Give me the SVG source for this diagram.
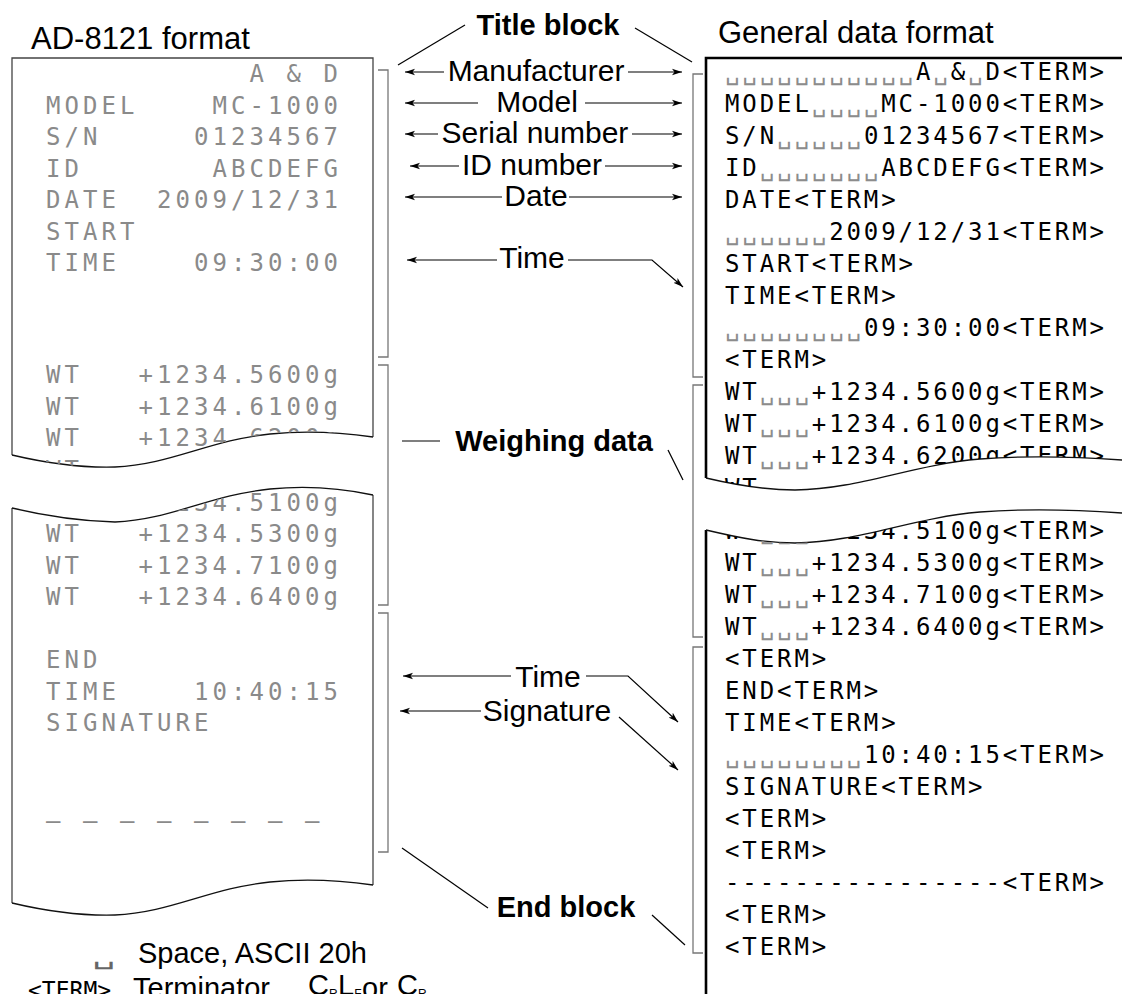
<svg xmlns="http://www.w3.org/2000/svg" width="1122" height="994" viewBox="0 0 1122 994">
<style>
text{white-space:pre}
.lp{font-family:"DejaVu Sans Mono",monospace;font-size:24px;letter-spacing:4.05px;fill:#8a8a8a}
.rp{font-family:"DejaVu Sans Mono",monospace;font-size:24px;letter-spacing:2.91px;fill:#000}
.sp{fill:#8c8c8c}
.hdr{font-family:"Liberation Sans",Arial,sans-serif;font-size:31px;fill:#000}
.lbl{font-family:"Liberation Sans",Arial,sans-serif;font-size:30px;fill:#000;text-anchor:middle}
.blbl{font-family:"Liberation Sans",Arial,sans-serif;font-size:29px;font-weight:bold;fill:#000;text-anchor:middle}
.leg{font-family:"Liberation Sans",Arial,sans-serif;font-size:29px;fill:#000}
.edgeL{fill:none;stroke:#444;stroke-width:1.3}
.edgeR{fill:none;stroke:#000;stroke-width:2.6}
.wave{fill:none;stroke:#111;stroke-width:1.3}
.br{fill:none;stroke:#777;stroke-width:1.3}
.ln{fill:none;stroke:#000;stroke-width:1.2}
</style>
<defs>
<marker id="ah" viewBox="0 0 10 8" refX="10" refY="4" markerWidth="10" markerHeight="8" markerUnits="userSpaceOnUse" orient="auto-start-reverse"><path d="M0,0.8 L10,4 L0,7.2 L2.5,4 Z" fill="#000"/></marker>
<clipPath id="cLU"><path d="M12,58 H373 V437 C345,433 310,430 270,434 C210,440 170,465 115,467 C80,468 50,464 12,455 Z"/></clipPath>
<clipPath id="cLL"><path d="M12,508 C50,517 80,521 115,522 C170,520 210,495 270,489 C310,485 345,489 373,495 V900 H12 Z"/></clipPath>
<clipPath id="cRU"><path d="M706,58 H1122 V460 C1080,457 1030,455 980,459 C910,465 860,489 795,490 C765,490 740,486 706,478 Z"/></clipPath>
<clipPath id="cRL"><path d="M706,530 C740,538 765,543 795,543 C860,542 910,518 980,512 C1030,508 1080,510 1122,513 V994 H706 Z"/></clipPath>
</defs>
<rect width="1122" height="994" fill="#fff"/>

<g id="headers">
<text class="hdr" x="31" y="49">AD-8121 format</text>
<text class="hdr" x="718" y="43">General data format</text>
</g>

<g id="left-paper">
<path class="edgeL" d="M12,455 V58 H373 V437"/>
<path class="wave" d="M12,455 C50,464 80,468 115,467 C170,465 210,440 270,434 C310,430 345,433 373,437"/>
<path class="edgeL" d="M12,508 V903"/>
<path class="edgeL" d="M373,495 V885"/>
<path class="wave" d="M12,508 C50,517 80,521 115,522 C170,520 210,495 270,489 C310,485 345,489 373,495"/>
<path class="wave" d="M12,903 C50,912 80,916 115,915 C170,913 210,888 270,882 C310,878 345,881 373,885"/>
<g clip-path="url(#cLU)">
<text class="lp" x="46" y="82" xml:space="preserve">           A &amp; D</text>
<text class="lp" x="46" y="113.5" xml:space="preserve">MODEL    MC-1000</text>
<text class="lp" x="46" y="145" xml:space="preserve">S/N     01234567</text>
<text class="lp" x="46" y="176.5" xml:space="preserve">ID       ABCDEFG</text>
<text class="lp" x="46" y="208" xml:space="preserve">DATE  2009/12/31</text>
<text class="lp" x="46" y="239.5">START</text>
<text class="lp" x="46" y="271" xml:space="preserve">TIME    09:30:00</text>
<text class="lp" x="46" y="383" xml:space="preserve">WT   +1234.5600g</text>
<text class="lp" x="46" y="414.5" xml:space="preserve">WT   +1234.6100g</text>
<text class="lp" x="46" y="446" xml:space="preserve">WT   +1234.6200g</text>
<text class="lp" x="46" y="477.5">WT</text>
</g>
<g clip-path="url(#cLL)">
<text class="lp" x="46" y="511" xml:space="preserve">WT   +1234.5100g</text>
<text class="lp" x="46" y="542" xml:space="preserve">WT   +1234.5300g</text>
<text class="lp" x="46" y="573.5" xml:space="preserve">WT   +1234.7100g</text>
<text class="lp" x="46" y="605" xml:space="preserve">WT   +1234.6400g</text>
<text class="lp" x="46" y="668">END</text>
<text class="lp" x="46" y="699.5" xml:space="preserve">TIME    10:40:15</text>
<text class="lp" x="46" y="731">SIGNATURE</text>
<text class="lp" x="46" y="829" xml:space="preserve">– – – – – – – –</text>
</g>
</g>

<g id="right-paper">
<path class="edgeR" d="M706,478 V58 H1122"/>
<path class="edgeR" d="M706,530 V994"/>
<path class="wave" d="M706,478 C740,486 765,490 795,490 C860,489 910,465 980,459 C1030,455 1080,457 1122,460"/>
<path class="wave" d="M706,530 C740,538 765,543 795,543 C860,542 910,518 980,512 C1030,508 1080,510 1122,513"/>
<g clip-path="url(#cRU)">
<text class="rp" x="725" y="80"><tspan class="sp">␣␣␣␣␣␣␣␣␣␣␣</tspan>A<tspan class="sp">␣</tspan>&amp;<tspan class="sp">␣</tspan>D&lt;TERM&gt;</text>
<text class="rp" x="725" y="112">MODEL<tspan class="sp">␣␣␣␣</tspan>MC-1000&lt;TERM&gt;</text>
<text class="rp" x="725" y="144">S/N<tspan class="sp">␣␣␣␣␣</tspan>01234567&lt;TERM&gt;</text>
<text class="rp" x="725" y="176">ID<tspan class="sp">␣␣␣␣␣␣␣</tspan>ABCDEFG&lt;TERM&gt;</text>
<text class="rp" x="725" y="208">DATE&lt;TERM&gt;</text>
<text class="rp" x="725" y="240"><tspan class="sp">␣␣␣␣␣␣</tspan>2009/12/31&lt;TERM&gt;</text>
<text class="rp" x="725" y="272">START&lt;TERM&gt;</text>
<text class="rp" x="725" y="304">TIME&lt;TERM&gt;</text>
<text class="rp" x="725" y="336"><tspan class="sp">␣␣␣␣␣␣␣␣</tspan>09:30:00&lt;TERM&gt;</text>
<text class="rp" x="725" y="368">&lt;TERM&gt;</text>
<text class="rp" x="725" y="400">WT<tspan class="sp">␣␣␣</tspan>+1234.5600g&lt;TERM&gt;</text>
<text class="rp" x="725" y="432">WT<tspan class="sp">␣␣␣</tspan>+1234.6100g&lt;TERM&gt;</text>
<text class="rp" x="725" y="464">WT<tspan class="sp">␣␣␣</tspan>+1234.6200g&lt;TERM&gt;</text>
<text class="rp" x="725" y="496">WT</text>
</g>
<g clip-path="url(#cRL)">
<text class="rp" x="725" y="539">WT<tspan class="sp">␣␣␣</tspan>+1234.5100g&lt;TERM&gt;</text>
<text class="rp" x="725" y="571">WT<tspan class="sp">␣␣␣</tspan>+1234.5300g&lt;TERM&gt;</text>
<text class="rp" x="725" y="603">WT<tspan class="sp">␣␣␣</tspan>+1234.7100g&lt;TERM&gt;</text>
<text class="rp" x="725" y="635">WT<tspan class="sp">␣␣␣</tspan>+1234.6400g&lt;TERM&gt;</text>
<text class="rp" x="725" y="667">&lt;TERM&gt;</text>
<text class="rp" x="725" y="699">END&lt;TERM&gt;</text>
<text class="rp" x="725" y="731">TIME&lt;TERM&gt;</text>
<text class="rp" x="725" y="763"><tspan class="sp">␣␣␣␣␣␣␣␣</tspan>10:40:15&lt;TERM&gt;</text>
<text class="rp" x="725" y="795">SIGNATURE&lt;TERM&gt;</text>
<text class="rp" x="725" y="827">&lt;TERM&gt;</text>
<text class="rp" x="725" y="859">&lt;TERM&gt;</text>
<text class="rp" x="725" y="891">----------------&lt;TERM&gt;</text>
<text class="rp" x="725" y="923">&lt;TERM&gt;</text>
<text class="rp" x="725" y="955">&lt;TERM&gt;</text>
</g>
</g>

<g id="brackets">
<path class="br" d="M378,70 H388 V357 H378"/>
<path class="br" d="M378,365 H388 V605 H378"/>
<path class="br" d="M378,613 H388 V852 H378"/>
<path class="br" d="M703,74 H693 V377 H703"/>
<path class="br" d="M703,385 H693 V637 H703"/>
<path class="br" d="M703,647 H693 V953 H703"/>
</g>

<g id="label-title-block"><text class="blbl" x="548" y="35">Title block</text></g>
<g id="label-manufacturer"><text class="lbl" x="536" y="81">Manufacturer</text></g>
<g id="label-model"><text class="lbl" x="537" y="112">Model</text></g>
<g id="label-serial"><text class="lbl" x="535" y="143">Serial number</text></g>
<g id="label-id"><text class="lbl" x="532" y="175">ID number</text></g>
<g id="label-date"><text class="lbl" x="536" y="206">Date</text></g>
<g id="label-time1"><text class="lbl" x="532" y="268">Time</text></g>
<g id="label-weighing"><text class="blbl" x="554" y="451">Weighing data</text></g>
<g id="label-time2"><text class="lbl" x="548" y="687">Time</text></g>
<g id="label-signature"><text class="lbl" x="547" y="721">Signature</text></g>
<g id="label-end-block"><text class="blbl" x="566" y="917">End block</text></g>

<g id="connectors">
<line class="ln" x1="398" y1="65" x2="465" y2="25"/>
<line class="ln" x1="635" y1="28" x2="692" y2="62"/>
<line class="ln" x1="405" y1="72" x2="444" y2="72" marker-start="url(#ah)"/>
<line class="ln" x1="628" y1="72" x2="682" y2="72" marker-end="url(#ah)"/>
<line class="ln" x1="405" y1="103" x2="478" y2="103" marker-start="url(#ah)"/>
<line class="ln" x1="585" y1="103" x2="682" y2="103" marker-end="url(#ah)"/>
<line class="ln" x1="405" y1="134" x2="438" y2="134" marker-start="url(#ah)"/>
<line class="ln" x1="632" y1="134" x2="682" y2="134" marker-end="url(#ah)"/>
<line class="ln" x1="410" y1="166" x2="459" y2="166" marker-start="url(#ah)"/>
<line class="ln" x1="605" y1="166" x2="682" y2="166" marker-end="url(#ah)"/>
<line class="ln" x1="405" y1="197" x2="502" y2="197" marker-start="url(#ah)"/>
<line class="ln" x1="569" y1="197" x2="682" y2="197" marker-end="url(#ah)"/>
<line class="ln" x1="407" y1="260" x2="497" y2="260" marker-start="url(#ah)"/>
<polyline class="ln" points="568,260 652,260 683,287" marker-end="url(#ah)"/>
<line class="ln" x1="402" y1="441" x2="440" y2="441" stroke="#555"/>
<line class="ln" x1="668" y1="450" x2="683" y2="480"/>
<line class="ln" x1="403" y1="676" x2="511" y2="676" marker-start="url(#ah)"/>
<polyline class="ln" points="586,676 628,676 678,722" marker-end="url(#ah)"/>
<line class="ln" x1="400" y1="711" x2="481" y2="711" marker-start="url(#ah)"/>
<line class="ln" x1="619" y1="717" x2="678" y2="770" marker-end="url(#ah)"/>
<line class="ln" x1="402" y1="848" x2="488" y2="908"/>
<line class="ln" x1="652" y1="915" x2="685" y2="945"/>
</g>

<g id="legend">
<text transform="translate(92,964) scale(1.6,1)" font-family="DejaVu Sans Mono, monospace" font-size="24" fill="#666">␣</text>
<text class="leg" x="138" y="963">Space, ASCII 20h</text>
<text x="28" y="998" font-family="DejaVu Sans Mono, monospace" font-size="23" fill="#000">&lt;TERM&gt;</text>
<text class="leg" x="133" y="998" font-size="30">Terminator</text>
<text class="leg" x="308" y="995" font-size="18">C<tspan font-size="12" dy="3">R</tspan></text>
<text class="leg" x="338" y="995" font-size="18">L<tspan font-size="12" dy="3">F</tspan></text>
<text class="leg" x="362" y="998" font-size="27">or</text>
<text class="leg" x="397" y="995" font-size="18">C<tspan font-size="12" dy="3">R</tspan></text>
</g>
</svg>
